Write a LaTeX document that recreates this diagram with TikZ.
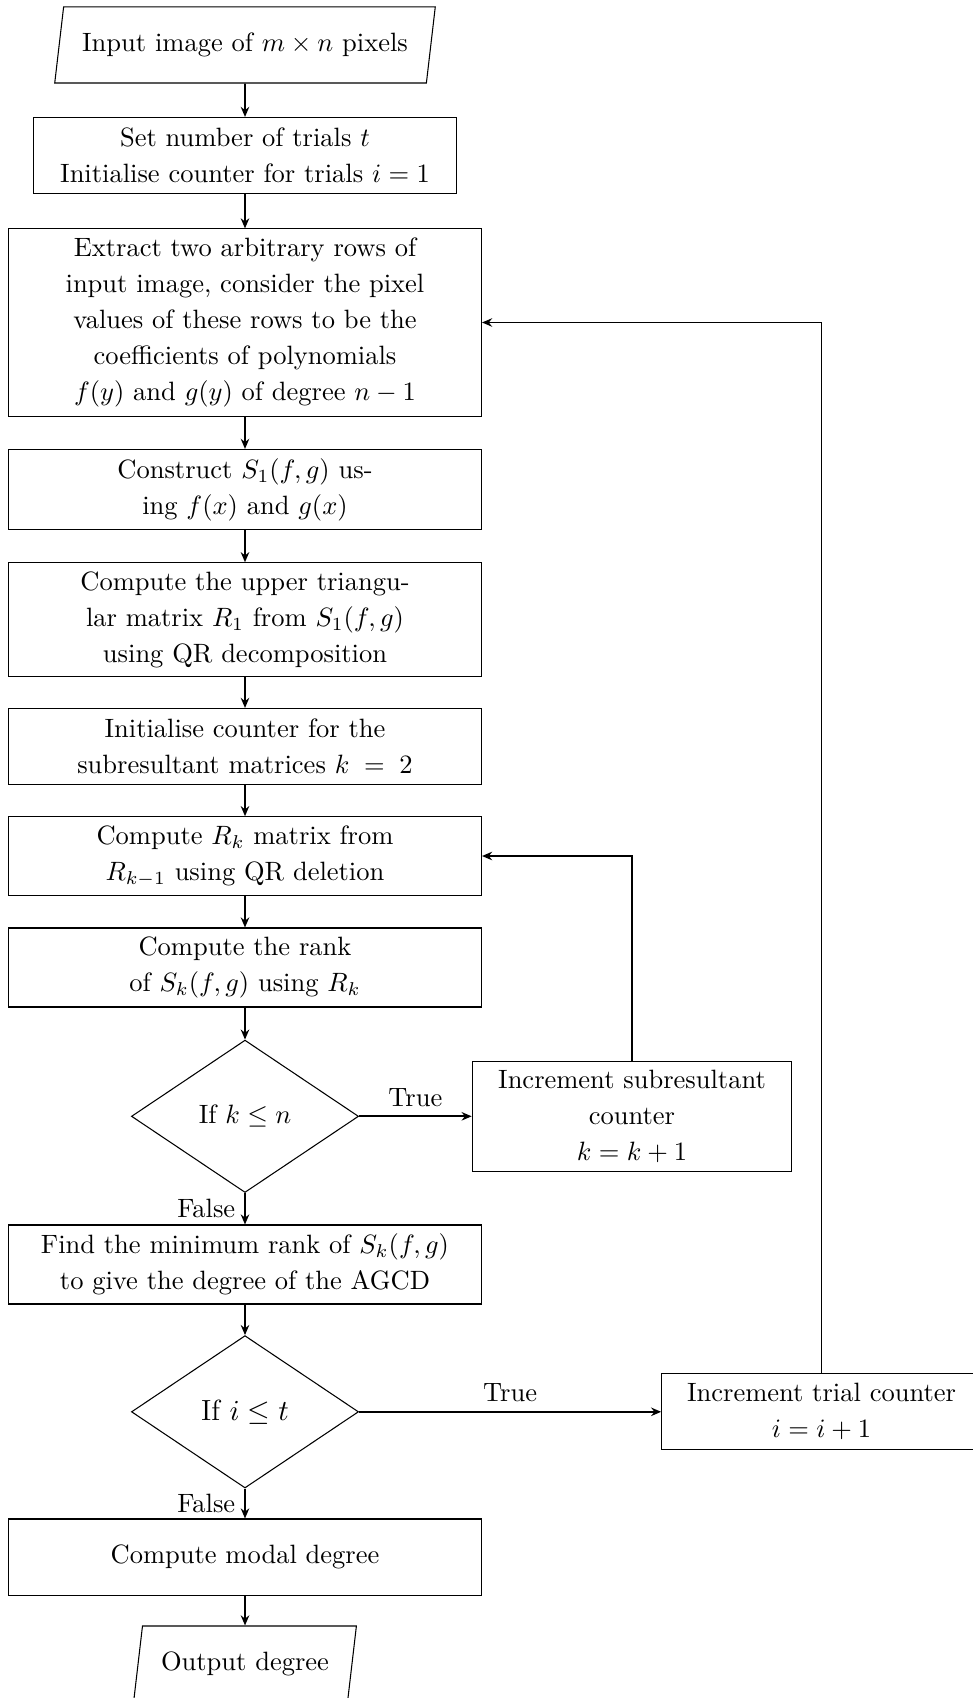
\documentclass[tikz,border=0pt]{standalone}
\usetikzlibrary{shapes.geometric,arrows.meta}
\begin{document}
\begin{tikzpicture}[x=0.37736pt,y=-0.37736pt,
  txt/.style={font=\fontsize{10}{13.6}\selectfont},
  box/.style={txt,draw,rectangle,align=center,minimum height=28.7pt,inner sep=3.33pt},
  mainbox/.style={box,minimum width=178.5pt},
  setbox/.style={box,minimum width=159.6pt},
  sidebox/.style={box,minimum width=120.6pt},
  iobox/.style={txt,draw,trapezium,trapezium left angle=78,trapezium right angle=102,
    trapezium stretches=true,minimum height=28.7pt,inner xsep=7pt,align=center},
  decision/.style={txt,draw,diamond,minimum width=85.7pt,minimum height=57.5pt,inner sep=0pt,align=center},
  flow/.style={-{Stealth[length=3.8pt,width=3.2pt]},line width=0.7pt},
  lbl/.style={txt,inner sep=3.33pt}]
\useasboundingbox (0,0) rectangle (973,1698);

% main column
\node[iobox]   (in)      at (245,45)     {Input image of $m \times n$ pixels};
\node[setbox]  (set)     at (245,155.5)  {Set number of trials $t$\\Initialise counter for trials $i=1$};
\node[mainbox] (extract) at (245,322.5)  {Extract two arbitrary rows of\\input image, consider the pixel\\values of these rows to be the\\coefficients of polynomials\\$f(y)$ and $g(y)$ of degree $n-1$};
\node[mainbox] (constr)  at (245,489.5)  {Construct $S_1(f,g)$ us-\\ing $f(x)$ and $g(x)$};
\node[mainbox] (upper)   at (245,619.7)  {Compute the upper triangu-\\lar matrix $R_1$ from $S_1(f,g)$\\using QR decomposition};
\node[mainbox] (initk)   at (245,746.5)  {Initialise counter for the\\subresultant matrices $k\;=\;2$};
\node[mainbox] (rk)      at (245,856)    {Compute $R_k$ matrix from\\$R_{k-1}$ using QR deletion};
\node[mainbox] (rank)    at (245,967.5)  {Compute the rank\\of $S_k(f,g)$ using $R_k$};
\node[decision] (deck)   at (245,1116.3) {If $k \leq n$};
\node[mainbox] (find)    at (245,1264.5) {Find the minimum rank of $S_k(f,g)$\\to give the degree of the AGCD};
\node[decision,font=\fontsize{11}{13.6}\selectfont] (deci) at (245,1411.8) {If $i \leq t$};
\node[mainbox] (modal)   at (245,1557)   {Compute modal degree};
\node[iobox]   (out)     at (245,1664)   {Output degree};

% side boxes
\node[sidebox] (incsub)   at (632,1116.3)   {Increment subresultant\\counter\\$k=k+1$};
\node[sidebox] (inctrial) at (821.5,1411.8) {Increment trial counter\\$i=i+1$};

% connectors
\draw[flow] (in) -- (set);
\draw[flow] (set) -- (extract);
\draw[flow] (extract) -- (constr);
\draw[flow] (constr) -- (upper);
\draw[flow] (upper) -- (initk);
\draw[flow] (initk) -- (rk);
\draw[flow] (rk) -- (rank);
\draw[flow] (rank) -- (deck);
\draw[flow] (deck.east) -- node[lbl,above] {True} (incsub.west);
\draw[flow] (deck.south) -- node[lbl,left] {False} (find.north);
\draw[flow] (incsub.north) |- (rk.east);
\draw[flow] (find) -- (deci);
\draw[flow] (deci.east) -- node[lbl,above] {True} (inctrial.west);
\draw[flow] (deci.south) -- node[lbl,left] {False} (modal.north);
\draw[flow] (inctrial.north) |- (extract.east);
\draw[flow] (modal) -- (out);
\end{tikzpicture}
\end{document}
